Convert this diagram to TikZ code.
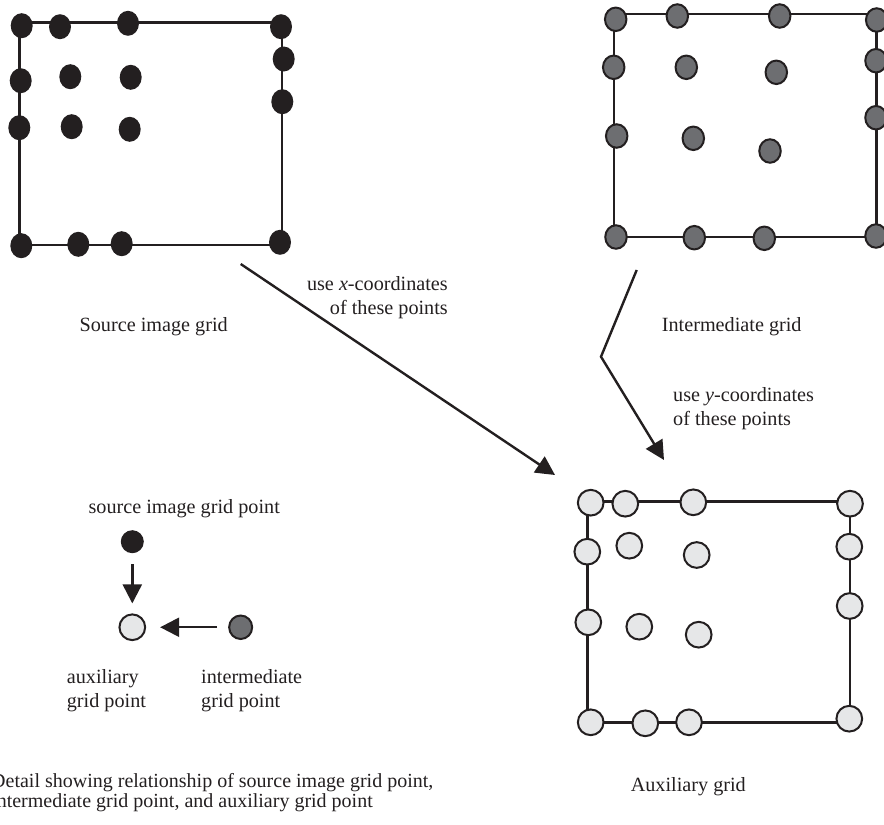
\documentclass[tikz,border=0pt]{standalone}
\usepackage{fontspec}
\setmainfont{Liberation Serif}
\usepackage{xcolor}
\usepackage{tikz}
\usetikzlibrary{
    arrows.meta,
    positioning,
    shapes.geometric
}
\definecolor{ink}{HTML}{231F20}
\definecolor{midgray}{HTML}{6D6E71}
\definecolor{auxgray}{HTML}{E6E7E8}

\begin{document}
\begin{tikzpicture}[
    x=1bp, y=-1bp,
    frame/.style={
        draw=ink,
        line width=2.5bp
    },
    srcpt/.style={
        ellipse,
        fill=ink,
        inner sep=0pt,
        minimum width=22bp,
        minimum height=25bp
    },
    midpt/.style={
        ellipse,
        draw=ink,
        line width=2bp,
        fill=midgray,
        inner sep=0pt,
        minimum width=21.5bp,
        minimum height=23.5bp
    },
    auxpt/.style={
        circle,
        draw=ink,
        line width=2bp,
        fill=auxgray,
        inner sep=0pt,
        minimum size=25.7bp
    },
    label/.style={
        inner sep=0pt,
        text=ink,
        font=\fontsize{20.2bp}{24bp}\selectfont
    },
    arrow/.style={
        -{Triangle[length=19bp,width=19bp]},
        draw=ink,
        line width=2.4bp
    }
]

\useasboundingbox (0,0) rectangle (884,825);

% source image grid
\draw[frame] (19.5,22.7) rectangle (282,245);
\node[srcpt] (s1) at (21.7,25.7) {};
\node[srcpt] (s2) at (60,26.7) {};
\node[srcpt] (s3) at (128,23.3) {};
\node[srcpt] (s4) at (281,26.7) {};
\node[srcpt] (s5) at (20.7,80.7) {};
\node[srcpt] (s6) at (70.3,76.7) {};
\node[srcpt] (s7) at (130.7,77.3) {};
\node[srcpt] (s8) at (283.7,59) {};
\node[srcpt] (s9) at (19.3,127.7) {};
\node[srcpt] (s10) at (71.7,126.7) {};
\node[srcpt] (s11) at (129.7,129.3) {};
\node[srcpt] (s12) at (282.3,101.7) {};
\node[srcpt] (s13) at (21.3,245.7) {};
\node[srcpt] (s14) at (78.3,244.3) {};
\node[srcpt] (s15) at (121.7,243.7) {};
\node[srcpt] (s16) at (280,242.3) {};

% intermediate grid
\draw[frame] (614,14) rectangle (876.7,237);
\node[midpt] (m1) at (615.7,19.3) {};
\node[midpt] (m2) at (677.3,16) {};
\node[midpt] (m3) at (779.7,16) {};
\node[midpt] (m4) at (876.7,20) {};
\node[midpt] (m5) at (613.7,67.3) {};
\node[midpt] (m6) at (686.3,67.3) {};
\node[midpt] (m7) at (776.3,72.3) {};
\node[midpt] (m8) at (876,60.7) {};
\node[midpt] (m9) at (616.7,136) {};
\node[midpt] (m10) at (693.3,138.3) {};
\node[midpt] (m11) at (770,151) {};
\node[midpt] (m12) at (876,117.7) {};
\node[midpt] (m13) at (616,237) {};
\node[midpt] (m14) at (694.3,237.7) {};
\node[midpt] (m15) at (764.3,238.3) {};
\node[midpt] (m16) at (876,236) {};

% auxiliary grid
\draw[frame] (587.7,501.7) rectangle (850,722.3);
\node[auxpt] (a1) at (590.7,502.7) {};
\node[auxpt] (a2) at (625.3,503.7) {};
\node[auxpt] (a3) at (693.3,502.3) {};
\node[auxpt] (a4) at (850,503.7) {};
\node[auxpt] (a5) at (587.3,551.7) {};
\node[auxpt] (a6) at (629.3,545.7) {};
\node[auxpt] (a7) at (696.7,555) {};
\node[auxpt] (a8) at (849.3,546.7) {};
\node[auxpt] (a9) at (588.3,622.3) {};
\node[auxpt] (a10) at (639.3,626.7) {};
\node[auxpt] (a11) at (698.7,634.7) {};
\node[auxpt] (a12) at (849.7,606) {};
\node[auxpt] (a13) at (590.7,722.3) {};
\node[auxpt] (a14) at (645.3,723.3) {};
\node[auxpt] (a15) at (689,722.3) {};
\node[auxpt] (a16) at (849.3,718.7) {};

\node[label, anchor=base] (srctitle) at (153.7,331) {Source image grid};
\node[label, anchor=base] (midtitle) at (731.7,331) {Intermediate grid};
\node[label, anchor=base] (auxtitle) at (688.3,791.7) {Auxiliary grid};

% where the coordinates come from
\coordinate (xfrom) at (240.7,264);
\coordinate (xto) at (555,475);
\coordinate (yfrom) at (636.7,270);
\coordinate (ybend) at (601,356.7);
\coordinate (yto) at (664,460);

\draw[arrow] (xfrom) -- (xto);
\draw[arrow] (yfrom) -- (ybend) -- (yto);

\node[label, anchor=east, align=right] (xnote) at (448,297.9)
    {use \textit{x}-coordinates\\of these points};
\node[label, anchor=west, align=left] (ynote) at (673,409)
    {use \textit{y}-coordinates\\of these points};

% detail of one point
\node[srcpt, minimum width=23bp, minimum height=23bp] (lsrc) at (132.3,541.7) {};
\node[auxpt, below=60bp of lsrc] (laux) {};
\node[midpt, minimum width=23bp, right=82bp of laux] (lmid) {};

\draw[arrow, shorten <=11bp, shorten >=10bp] (lsrc) -- (laux);
\draw[arrow, shorten <=11bp, shorten >=14bp] (lmid) -- (laux);

\node[label, anchor=base] (lsrctext) at (184.2,513.3) {source image grid point};
\node[label, anchor=west, align=left] (lauxtext) at (66.7,690.3)
    {auxiliary\\grid point};
\node[label, anchor=west, align=left] (lmidtext) at (201,690.3)
    {intermediate\\grid point};

\node[label, anchor=west, align=left, font=\fontsize{20bp}{20bp}\selectfont]
    (caption) at (-9,792.2)
    {Detail showing relationship of source image grid point,\\intermediate grid point, and auxiliary grid point};

\end{tikzpicture}
\end{document}
